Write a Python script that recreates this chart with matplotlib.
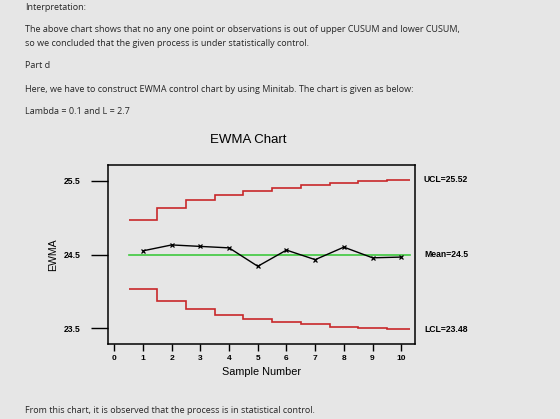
import matplotlib
matplotlib.use("Agg")
import matplotlib.pyplot as plt
import matplotlib.transforms as mtransforms
import numpy as np

# chart data
samples = [1, 2, 3, 4, 5, 6, 7, 8, 9, 10]
ewma = [24.55, 24.63, 24.61, 24.59, 24.34, 24.56, 24.43, 24.60, 24.455, 24.465]
ucl = [24.97, 25.13, 25.235, 25.31, 25.365, 25.41, 25.445, 25.475, 25.495, 25.51]
lcl = [24.025, 23.865, 23.76, 23.68, 23.625, 23.585, 23.55, 23.52, 23.5, 23.485]
mean = 24.5
x_ticks = [0, 1, 2, 3, 4, 5, 6, 7, 8, 9, 10]
y_ticks = [23.5, 24.5, 25.5]
limit_labels = ["UCL=25.52", "Mean=24.5", "LCL=23.48"]
limit_levels = [25.52, 24.5, 23.48]

text_lines = [
    ("Interpretation:", 7),
    ("The above chart shows that no any one point or observations is out of upper CUSUM and lower CUSUM,", 30),
    ("so we concluded that the given process is under statistically control.", 43),
    ("Part d", 66),
    ("Here, we have to construct EWMA control chart by using Minitab. The chart is given as below:", 89),
    ("Lambda = 0.1 and L = 2.7", 111),
    ("From this chart, it is observed that the process is in statistical control.", 410),
]

W, H = 560, 419
bg = "#e6e6e6"
fig = plt.figure(figsize=(W / 100, H / 100), dpi=100, facecolor=bg)

for line, ypix in text_lines:
    fig.text(25 / W, 1 - ypix / H, line, fontsize=6.45, family="Open Sans",
             color="#262626", va="center", ha="left")

left, right, top, bottom = 108.3, 415.3, 164.7, 344.3
ax = fig.add_axes([left / W, 1 - bottom / H, (right - left) / W, (bottom - top) / H])
ax.set_facecolor(bg)

edges = [s - 0.5 for s in samples] + [samples[-1] + 0.3]
ax.stairs(ucl, edges, color="#c8282a", lw=1.2, baseline=None)
ax.stairs(lcl, edges, color="#c8282a", lw=1.2, baseline=None)
ax.plot([edges[0], edges[-1]], [mean, mean], color="#3ec83e", lw=1.2)
ax.plot(samples, ewma, color="black", lw=1.0, marker="x", ms=3, mew=0.9)

ax.set_xlim(-0.21, 10.49)
ax.set_ylim(23.28, 25.72)
ax.set_xticks(x_ticks)
ax.set_yticks(y_ticks)
ax.set_xticklabels([str(t) for t in x_ticks], family="Liberation Sans", fontsize=6, fontweight="bold")
ax.set_yticklabels([str(t) for t in y_ticks], family="Liberation Sans", fontsize=6.2, fontweight="bold")
ax.tick_params(axis="x", length=5, width=1, pad=3)
ax.tick_params(axis="y", length=12, width=1, pad=8)
for sp in ax.spines.values():
    sp.set_linewidth(1.1)

trans = mtransforms.blended_transform_factory(ax.transAxes, ax.transData)
for lab, lev in zip(limit_labels, limit_levels):
    ax.text(1.028, lev, lab, transform=trans, family="Liberation Sans", fontsize=6.2,
            fontweight="bold", va="center", ha="left")

fig.text(248 / W, 1 - 140 / H, "EWMA Chart", family="Liberation Sans", fontsize=9.5,
         ha="center", va="center")
fig.text(262 / W, 1 - 372 / H, "Sample Number", family="Liberation Sans", fontsize=7.8,
         ha="center", va="center")
fig.text(53 / W, 1 - 255 / H, "EWMA", family="Liberation Sans", fontsize=7.6,
         rotation=90, ha="center", va="center")

fig.savefig("out.png", dpi=100, facecolor=bg)
